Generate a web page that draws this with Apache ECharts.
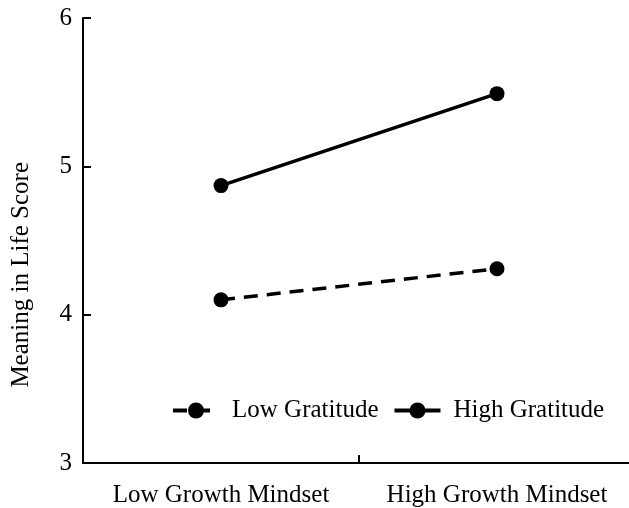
<!DOCTYPE html>
<html>
<head>
<meta charset="utf-8">
<script src="https://cdn.jsdelivr.net/npm/echarts@6/dist/echarts.min.js"></script>
<style>html,body{margin:0;padding:0;background:#fff;}#c{width:629px;height:508px;}</style>
</head>
<body>
<div id="c"></div>
<script>
var categories = ['Low Growth Mindset', 'High Growth Mindset'];
var lowGratitude = [4.10, 4.31];
var highGratitude = [4.87, 5.49];
var seriesNames = ['Low Gratitude', 'High Gratitude'];
var yTitle = 'Meaning in Life Score';

var font = 'Liberation Serif, Times New Roman, serif';
var chart = echarts.init(document.getElementById('c'), null, {renderer: 'canvas'});
chart.setOption({
  backgroundColor: '#ffffff',
  animation: false,
  textStyle: {fontFamily: font, color: '#000'},
  grid: {left: 83, width: 552, top: 18, height: 445, containLabel: false, outerBoundsMode: 'none'},
  legend: {
    left: 166, top: 393,
    itemWidth: 46, itemHeight: 20, itemGap: 14,
    lineStyle: {width: 4},
    textStyle: {fontFamily: font, fontSize: 25, color: '#000', padding: [0, 0, 0, 8]},
    data: seriesNames
  },
  xAxis: {
    type: 'category',
    data: categories,
    boundaryGap: true,
    axisLine: {lineStyle: {color: '#000', width: 2}},
    axisTick: {show: true, inside: true, length: 8, lineStyle: {color: '#000', width: 2}},
    axisLabel: {fontFamily: font, fontSize: 25, color: '#000', margin: 20, interval: 0, hideOverlap: false}
  },
  yAxis: {
    type: 'value',
    min: 3, max: 6, interval: 1,
    axisLine: {show: true, lineStyle: {color: '#000', width: 2}},
    axisTick: {show: true, inside: true, length: 8, lineStyle: {color: '#000', width: 2}},
    axisLabel: {fontFamily: font, fontSize: 25, color: '#000', margin: 11},
    splitLine: {show: false}
  },
  graphic: [{
    type: 'text',
    left: 9, top: 162,
    rotation: Math.PI / 2,
    style: {text: yTitle, fontFamily: font, fontSize: 25, fill: '#000'}
  }],
  series: [
    {
      name: seriesNames[0], type: 'line', data: lowGratitude,
      symbol: 'circle', symbolSize: 15,
      itemStyle: {color: '#000'},
      lineStyle: {color: '#000', width: 3.5, type: [14, 9]}
    },
    {
      name: seriesNames[1], type: 'line', data: highGratitude,
      symbol: 'circle', symbolSize: 15,
      itemStyle: {color: '#000'},
      lineStyle: {color: '#000', width: 3.5, type: 'solid'}
    }
  ]
});
</script>
</body>
</html>
